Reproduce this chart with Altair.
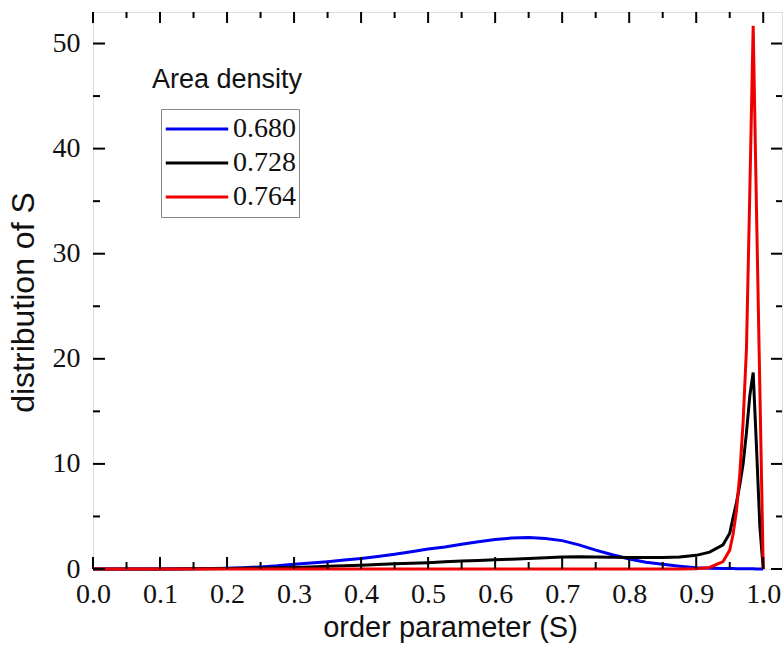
import altair as alt
import pandas as pd

# ---- data ----
S = [0.0, 0.05, 0.10, 0.15, 0.20, 0.225, 0.25, 0.275, 0.30, 0.325, 0.35, 0.375,
     0.40, 0.425, 0.45, 0.475, 0.50, 0.525, 0.55, 0.575, 0.60, 0.625, 0.65,
     0.675, 0.70, 0.725, 0.75, 0.775, 0.80, 0.825, 0.85, 0.875, 0.90, 0.92,
     0.94, 0.95, 0.955, 0.96, 0.965, 0.97, 0.975, 0.98, 0.985, 0.99, 0.995, 1.0]
blue_680 = [0, 0, 0, 0.02, 0.08, 0.13, 0.2, 0.3, 0.45, 0.57, 0.7, 0.85,
            1.0, 1.2, 1.4, 1.65, 1.9, 2.1, 2.35, 2.6, 2.8, 2.95, 3.0,
            2.9, 2.7, 2.3, 1.8, 1.35, 0.95, 0.65, 0.45, 0.27, 0.12, 0.08,
            0.05, 0.04, 0.04, 0.03, 0.03, 0.03, 0.02, 0.02, 0.02, 0.01, 0.01, 0]
black_728 = [0, 0, 0, 0.02, 0.05, 0.07, 0.1, 0.12, 0.15, 0.2, 0.25, 0.3,
             0.35, 0.42, 0.5, 0.55, 0.6, 0.68, 0.75, 0.8, 0.87, 0.93, 1.0,
             1.08, 1.15, 1.17, 1.15, 1.12, 1.1, 1.1, 1.1, 1.15, 1.3, 1.6,
             2.3, 3.4, 4.9, 6.3, 8.0, 10.0, 13.0, 16.5, 18.7, 11.5, 4.0, 0]
red_764 = [0, 0, 0, 0, 0, 0, 0, 0, 0, 0, 0, 0,
           0, 0, 0, 0, 0, 0, 0, 0, 0, 0, 0,
           0, 0, 0, 0, 0, 0, 0, 0, 0, 0.02, 0.15,
           0.7, 1.8, 3.3, 5.5, 9.0, 14.0, 21.0, 36.0, 51.7, 34.0, 17.0, 0]

series_names = ["0.680", "0.728", "0.764"]
series_colors = ["#0000f0", "#000000", "#ee0000"]
series_values = [blue_680, black_728, red_764]

x_major = [0.0, 0.1, 0.2, 0.3, 0.4, 0.5, 0.6, 0.7, 0.8, 0.9, 1.0]
x_minor = [0.05, 0.15, 0.25, 0.35, 0.45, 0.55, 0.65, 0.75, 0.85, 0.95]
y_major = [0, 10, 20, 30, 40, 50]
y_minor = [5, 15, 25, 35, 45]

x_title = "order parameter (S)"
y_title = "distribution of S"
legend_title = "Area density"

rows = []
for name, vals in zip(series_names, series_values):
    for s, v in zip(S, vals):
        rows.append({"S": s, "value": v, "series": name})
df = pd.DataFrame(rows)

W, H = 689, 557
XDOM = [0, 1.028]
YDOM = [0, 53]
xs = alt.Scale(domain=XDOM, nice=False, zero=False)
ys = alt.Scale(domain=YDOM, nice=False, zero=False)

SERIF = "Liberation Serif"
SANS = "Liberation Sans"

main = alt.Chart(df).mark_line(strokeWidth=3).encode(
    x=alt.X("S:Q", scale=xs, axis=alt.Axis(
        orient="bottom", values=x_major, format=".1f", ticks=False, tickSize=0,
        domain=False, grid=False, labelFont=SERIF, labelFontSize=28,
        labelColor="#111", labelPadding=11, labelFlush=False,
        title=x_title, titleFont=SANS, titleFontSize=29, titleFontWeight="normal",
        titleColor="#111", titleX=357, titleY=67, titleBaseline="alphabetic",
        titleAnchor="start", titleAlign="center")),
    y=alt.Y("value:Q", scale=ys, axis=alt.Axis(
        orient="left", values=y_major, format="d", ticks=False, tickSize=0,
        domain=False, grid=False, labelFont=SERIF, labelFontSize=28,
        labelColor="#111", labelPadding=13, labelFlush=False,
        title=y_title, titleFont=SANS, titleFontSize=32, titleFontWeight="normal",
        titleColor="#111", titleX=-60, titleY=290, titleBaseline="alphabetic",
        titleAngle=270, titleAlign="center", titleAnchor="start")),
    color=alt.Color("series:N", scale=alt.Scale(domain=series_names, range=series_colors),
                    sort=series_names,
                    legend=alt.Legend(
                        title=None, orient="none", legendX=68, legendY=97,
                        direction="vertical", symbolType="stroke",
                        symbolSize=3900, symbolStrokeWidth=3, clipHeight=34,
                        rowPadding=0, labelFont=SERIF, labelFontSize=28,
                        labelColor="#111", labelOffset=3, padding=3,
                        strokeColor="#888888", fillColor="white")),
    order=alt.Order("S:Q"),
)

xmaj = pd.DataFrame({"v": x_major})
xmin = pd.DataFrame({"v": x_minor})
ymaj = pd.DataFrame({"v": y_major})
ymin = pd.DataFrame({"v": y_minor})


def xticks(data, y0, y1):
    return alt.Chart(data).mark_rule(strokeWidth=2, color="#000").encode(
        x=alt.X("v:Q", scale=xs), y=alt.value(y0), y2=alt.value(y1))


def yticks(data, x0, x1):
    return alt.Chart(data).mark_rule(strokeWidth=2, color="#000").encode(
        y=alt.Y("v:Q", scale=ys), x=alt.value(x0), x2=alt.value(x1))


ticks = [
    xticks(xmaj, H, H - 12), xticks(xmin, H, H - 7),
    xticks(xmaj, 0, 11), xticks(xmin, 0, 6),
    yticks(ymaj, 0, 12), yticks(ymin, 0, 7),
    yticks(ymaj, W, W - 11), yticks(ymin, W, W - 6),
]

title_text = alt.Chart(pd.DataFrame({"t": [legend_title]})).mark_text(
    align="left", baseline="alphabetic", font=SANS, fontSize=27, color="#111"
).encode(x=alt.value(59), y=alt.value(76), text="t:N")

chart = alt.layer(main, *ticks, title_text).properties(
    width=W, height=H,
    autosize=alt.AutoSizeParams(type="none"),
    padding={"left": 93, "top": 12, "right": 1, "bottom": 77},
).configure_view(stroke="#000", strokeWidth=2).configure(background="white")

chart.save("out.html", embed_options={"renderer": "svg", "actions": False})
